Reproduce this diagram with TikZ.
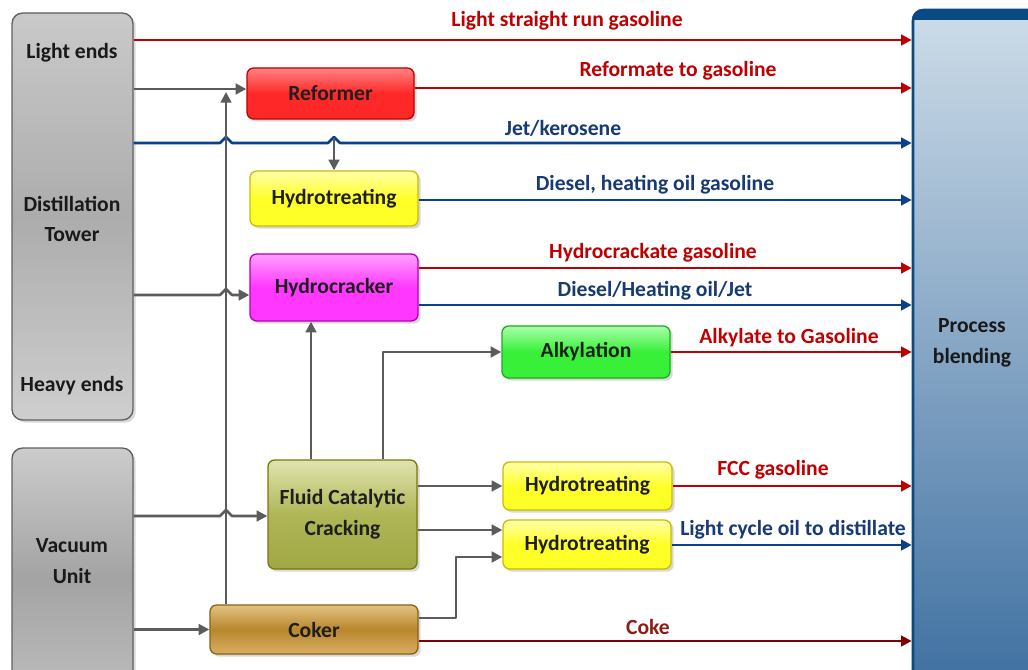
\documentclass[tikz,border=0pt]{standalone}
\usepackage{fontspec}
\setmainfont{Carlito}
\usetikzlibrary{arrows.meta,shadows}
\definecolor{lred}{RGB}{192,0,0}
\definecolor{lblue}{RGB}{10,64,140}
\definecolor{tblue}{RGB}{24,58,115}
\definecolor{lgray}{RGB}{92,92,92}
\definecolor{coke}{RGB}{128,0,0}
\definecolor{coketext}{RGB}{140,30,20}
\definecolor{bldraw}{RGB}{10,74,130}
\definecolor{bltop}{RGB}{205,220,232}
\definecolor{blbot}{RGB}{60,110,160}
\definecolor{rdraw}{RGB}{190,0,0}
\definecolor{rtop}{RGB}{255,130,130}
\definecolor{rmid}{RGB}{255,40,40}
\definecolor{ydraw}{RGB}{200,190,0}
\definecolor{ytop}{RGB}{255,255,170}
\definecolor{ymid}{RGB}{255,255,40}
\definecolor{mdraw}{RGB}{180,0,180}
\definecolor{mtop}{RGB}{255,160,255}
\definecolor{mmid}{RGB}{255,55,255}
\definecolor{gdraw}{RGB}{30,170,30}
\definecolor{gtop}{RGB}{170,255,170}
\definecolor{gmid}{RGB}{55,240,55}
\definecolor{odraw}{RGB}{120,120,10}
\definecolor{otop}{RGB}{225,228,175}
\definecolor{omid}{RGB}{175,182,85}
\definecolor{obot}{RGB}{160,168,70}
\definecolor{cdraw}{RGB}{140,95,15}
\definecolor{ctop}{RGB}{225,195,130}
\definecolor{cmid}{RGB}{185,135,45}
\definecolor{cbot}{RGB}{215,175,100}
\tikzset{
  flow/.style={line width=1.9pt, line join=round},
  redflow/.style={flow, draw=lred, -{Triangle[length=8pt,width=8pt]}},
  blueflow/.style={flow, draw=lblue, -{Triangle[length=8pt,width=8pt]}},
  grayflow/.style={flow, draw=lgray, -{Triangle[length=8pt,width=8pt]}},
  cokeflow/.style={flow, draw=coke, -{Triangle[length=8pt,width=8pt]}},
  txt/.style={font=\bfseries\fontsize{16.2}{23}\selectfont, align=center},
  redlbl/.style={txt, text=lred},
  bluelbl/.style={txt, text=tblue},
  dark/.style={txt, text=black!90},
  procbox/.style={txt, draw, line width=1pt, rounded corners=5pt, text=black!88, inner sep=0pt,
    drop shadow={opacity=0.3, shadow xshift=2pt, shadow yshift=-2pt}},
  column/.style={draw=gray!75!black, line width=1pt, rounded corners=8pt, inner sep=0pt,
    drop shadow={opacity=0.3, shadow xshift=2pt, shadow yshift=-2pt}},
  yellowbox/.style={procbox, draw=ydraw, top color=ytop, bottom color=ymid, middle color=ymid},
}
\begin{document}
\begin{tikzpicture}[x=0.75pt,y=-0.75pt]
\useasboundingbox (0,0) rectangle (1028,670);
\fill[white] (0,0) rectangle (1028,670);
\clip (0,0) rectangle (1028,670);

% columns
\node[column, top color=gray!42, bottom color=gray!38, middle color=gray!65,
  minimum width=90.75pt, minimum height=305.25pt] (tower) at (72.5,216.5) {};
\node[column, top color=gray!40, bottom color=gray!50, middle color=gray!72,
  minimum width=90.75pt, minimum height=195pt] (vac) at (72.5,578) {};
\node[draw=bldraw, line width=2pt, rounded corners=8pt,
  top color=bltop, bottom color=blbot,
  minimum width=99pt, minimum height=517.5pt, inner sep=0pt] (blend) at (979,355) {};
\begin{scope}
  \clip[rounded corners=8pt] (912,9) rectangle (1045,700);
  \fill[bldraw] (912,9) rectangle (1045,20);
\end{scope}

\node[dark] (lightends) at (72,53) {Light ends};
\node[dark] (dtower) at (72,219) {Distillation\\Tower};
\node[dark] (heavyends) at (72,386) {Heavy ends};
\node[dark] (vacuum) at (72,561) {Vacuum\\Unit};
\node[dark] (pblend) at (972,343) {Process\\blending};

% process boxes
\node[procbox, draw=rdraw, top color=rtop, bottom color=rmid, middle color=rmid,
  minimum width=125.25pt, minimum height=38.25pt] (reformer) at (330.5,93.5) {Reformer};
\node[yellowbox, minimum width=126pt, minimum height=41.25pt] (ht1) at (334,198.5) {Hydrotreating};
\node[procbox, draw=mdraw, top color=mtop, bottom color=mmid, middle color=mmid,
  minimum width=126pt, minimum height=50.25pt] (hcr) at (334,287.5) {Hydrocracker};
\node[procbox, draw=gdraw, top color=gtop, bottom color=gmid, middle color=gmid,
  minimum width=126pt, minimum height=39pt] (alky) at (586,352) {Alkylation};
\node[procbox, draw=odraw, top color=otop, bottom color=obot, middle color=omid,
  minimum width=111.75pt, minimum height=81.75pt] (fcc) at (342.5,514.5) {Fluid Catalytic\\Cracking};
\node[yellowbox, minimum width=126.75pt, minimum height=36pt] (ht2) at (587.5,486) {Hydrotreating};
\node[yellowbox, minimum width=126pt, minimum height=36.75pt] (ht3) at (587,544.5) {Hydrotreating};
\node[procbox, draw=cdraw, top color=ctop, bottom color=cbot, middle color=cmid,
  minimum width=156pt, minimum height=36.75pt] (coker) at (314,629.5) {Coker};

% connectors from the distillation tower / vacuum unit
\draw[redflow] (tower.east |- 0,40) -- (blend.west |- 0,40);
\draw[grayflow] (tower.east |- 0,89) -- (reformer.west |- 0,89);
\draw[blueflow] (tower.east |- 0,143) -- (220,143) -- (226,137) -- (232,143)
  -- (328,143) -- (334,137) -- (340,143) -- (blend.west |- 0,143);
\draw[grayflow] (tower.east |- 0,295) -- (220,295) -- (226,289) -- (232,295) -- (hcr.west |- 0,295);
\draw[grayflow] (vac.east |- 0,516) -- (220,516) -- (226,510) -- (232,516) -- (fcc.west |- 0,516);
\draw[grayflow] (vac.east |- coker.west) -- (coker.west);

% coker recycle riser
\draw[grayflow] (coker.north -| 226,0) -- (226,92);
% jet to hydrotreating
\draw[grayflow] (334,138) -- (ht1.north);

% products
\draw[redflow] (reformer.east |- 0,88) -- (blend.west |- 0,88);
\draw[blueflow] (ht1.east |- 0,200) -- (blend.west |- 0,200);
\draw[redflow] (hcr.east |- 0,268) -- (blend.west |- 0,268);
\draw[blueflow] (hcr.east |- 0,305) -- (blend.west |- 0,305);
\draw[redflow] (alky.east) -- (blend.west |- alky.east);
\draw[redflow] (ht2.east) -- (blend.west |- ht2.east);
\draw[blueflow] (ht3.east |- 0,545) -- (blend.west |- 0,545);
\draw[cokeflow] (coker.east |- 0,641) -- (blend.west |- 0,641);

% FCC connections
\draw[grayflow] (fcc.north -| 311,0) -- (hcr.south -| 311,0);
\draw[grayflow] (fcc.north -| 383,0) |- (alky.west);
\draw[grayflow] (fcc.east |- ht2.west) -- (ht2.west);
\draw[grayflow] (fcc.east |- 0,530) -- (ht3.west |- 0,530);
\draw[grayflow] (coker.east |- 0,618) -- (456,618) |- (ht3.west |- 0,557);

% labels
\node[redlbl] (l1) at (567,20.5) {Light straight run gasoline};
\node[redlbl] (l2) at (678,70.5) {Reformate to gasoline};
\node[bluelbl] (l3) at (563,128.5) {Jet/kerosene};
\node[bluelbl] (l4) at (655,184.5) {Diesel, heating oil gasoline};
\node[redlbl] (l5) at (653,252.5) {Hydrocrackate gasoline};
\node[bluelbl] (l6) at (655,290.5) {Diesel/Heating oil/Jet};
\node[redlbl] (l7) at (789,337.5) {Alkylate to Gasoline};
\node[redlbl] (l8) at (773,469.5) {FCC gasoline};
\node[bluelbl] (l9) at (793,529.5) {Light cycle oil to distillate};
\node[txt, text=coketext] (l10) at (648,626.5) {Coke};
\end{tikzpicture}
\end{document}
